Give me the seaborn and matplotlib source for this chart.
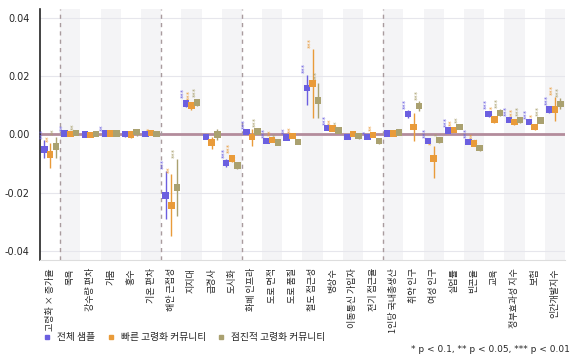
import matplotlib
matplotlib.use('Agg')
import matplotlib.pyplot as plt
from matplotlib.lines import Line2D
import pandas as pd
import seaborn as sns

# 변수 이름
categories = ['고령화 × 증가율', '목욕', '강수량 편차', '가뭄', '홍수', '기온 편차',
              '해안 근접성', '지지대', '급경사', '도시화', '화폐 인프라', '도로 면적',
              '도로 품질', '철도 접근성', '병상수', '이동통신 가입자', '전기 접근율',
              '1인당 국내총생산', '취약 인구', '여성 인구', '실업률', '빈곤율', '교육',
              '정부효과성 지수', '보험', '인간개발지수']
groups = ['전체 샘플', '빠른 고령화 커뮤니티', '점진적 고령화 커뮤니티']

# 계수 추정치
coef_all = [-0.0051, 0.0003, 0.0000, 0.0004, 0.0002, 0.0002, -0.0209, 0.0106, -0.0008,
            -0.0097, 0.0009, -0.0023, -0.0011, 0.0160, 0.0023, -0.0008, -0.0008,
            0.0003, 0.0071, -0.0023, 0.0014, -0.0025, 0.0071, 0.0050, 0.0042, 0.0085]
coef_fast = [-0.0068, 0.0001, -0.0001, 0.0003, 0.0000, 0.0005, -0.0243, 0.0099, -0.0028,
             -0.0082, -0.0009, -0.0019, -0.0006, 0.0174, 0.0021, 0.0002, -0.0001,
             0.0003, 0.0026, -0.0083, 0.0016, -0.0031, 0.0051, 0.0042, 0.0026, 0.0085]
coef_slow = [-0.0041, 0.0005, 0.0002, 0.0003, 0.0008, 0.0002, -0.0182, 0.0110, 0.0000,
             -0.0106, 0.0011, -0.0028, -0.0025, 0.0117, 0.0014, -0.0006, -0.0023,
             0.0006, 0.0097, -0.0019, 0.0026, -0.0046, 0.0074, 0.0050, 0.0048, 0.0105]

# 신뢰구간 하한 / 상한
lo_all = [-0.0082, 0.0000, -0.0003, 0.0001, -0.0008, -0.0001, -0.0290, 0.0093, -0.0017,
          -0.0110, 0.0003, -0.0030, -0.0018, 0.0100, 0.0017, -0.0014, -0.0014,
          -0.0002, 0.0058, -0.0030, 0.0008, -0.0032, 0.0061, 0.0043, 0.0035, 0.0074]
hi_all = [-0.0020, 0.0006, 0.0003, 0.0007, 0.0012, 0.0005, -0.0125, 0.0119, 0.0001,
          -0.0084, 0.0015, -0.0016, -0.0004, 0.0205, 0.0029, -0.0002, -0.0002,
          0.0008, 0.0084, -0.0016, 0.0020, -0.0018, 0.0081, 0.0057, 0.0049, 0.0096]
lo_fast = [-0.0116, -0.0002, -0.0004, 0.0000, -0.0012, 0.0002, -0.0348, 0.0085, -0.0050,
           -0.0095, -0.0040, -0.0027, -0.0013, 0.0058, 0.0014, -0.0006, -0.0008,
           -0.0003, -0.0023, -0.0150, 0.0009, -0.0040, 0.0040, 0.0033, 0.0017, 0.0045]
hi_fast = [-0.0030, 0.0004, 0.0002, 0.0006, 0.0012, 0.0008, -0.0137, 0.0113, -0.0010,
           -0.0069, 0.0020, -0.0011, 0.0001, 0.0293, 0.0028, 0.0010, 0.0006,
           0.0009, 0.0075, -0.0041, 0.0023, -0.0022, 0.0062, 0.0051, 0.0035, 0.0130]
lo_slow = [-0.0080, 0.0001, -0.0001, -0.0001, -0.0004, -0.0002, -0.0280, 0.0098, -0.0020,
           -0.0117, 0.0003, -0.0037, -0.0034, 0.0058, 0.0008, -0.0014, -0.0031,
           0.0000, 0.0080, -0.0028, 0.0018, -0.0055, 0.0062, 0.0040, 0.0038, 0.0086]
hi_slow = [-0.0007, 0.0009, 0.0005, 0.0007, 0.0020, 0.0006, -0.0085, 0.0122, 0.0020,
           -0.0095, 0.0019, -0.0019, -0.0016, 0.0177, 0.0020, 0.0002, -0.0015,
           0.0012, 0.0114, -0.0010, 0.0034, -0.0037, 0.0086, 0.0060, 0.0058, 0.0124]

# 유의수준 표시
stars_all = ['***', '**', '', '**', '', '', '***', '***', '', '***', '***', '***', '**',
             '***', '***', '', '*', '', '***', '***', '***', '***', '***', '***', '***', '***']
stars_fast = ['**', '', '', '', '', '*', '**', '***', '', '***', '', '**', '**',
              '***', '**', '', '**', '', '', '**', '**', '**', '***', '***', '***', '***']
stars_slow = ['**', '**', '', '', '', '', '***', '***', '', '**', '***', '**', '',
              '***', '**', '', '', '', '***', '*', '**', '**', '***', '***', '***', '***']

colors = ['#6b5fe0', '#e99b3a', '#aaa170']
offsets = [-0.28, 0.0, 0.28]

rows = []
series = [(coef_all, lo_all, hi_all, stars_all),
          (coef_fast, lo_fast, hi_fast, stars_fast),
          (coef_slow, lo_slow, hi_slow, stars_slow)]
for g, (c, lo, hi, st) in enumerate(series):
    for i in range(len(categories)):
        rows.append({'pos': i + offsets[g], 'coef': c[i], 'lo': lo[i], 'hi': hi[i],
                     'stars': st[i], 'grupo': groups[g]})
df = pd.DataFrame(rows)

sns.set_style('white')
plt.rcParams['font.family'] = ['Noto Sans CJK KR', 'DejaVu Sans']
plt.rcParams['axes.unicode_minus'] = False

fig = plt.figure(figsize=(5.8, 3.62), dpi=100)
ax = fig.add_axes([0.069, 0.282, 0.905, 0.693])

# 배경 줄무늬
for i in range(1, len(categories), 2):
    ax.axvspan(i - 0.5, i + 0.5, color='#f4f4f6', lw=0, zorder=0)

for yv in [-0.04, -0.02, 0.02, 0.04]:
    ax.axhline(yv, color='#e6e6ec', lw=0.8, zorder=0.5)
ax.axhline(0, color='#b38c9c', lw=2, zorder=1)

for xv in [0.5, 5.5, 9.5, 16.5]:
    ax.axvline(xv, color='#a99b9e', lw=1, ls=(0, (3, 3)), zorder=1)

palette = dict(zip(groups, colors))
for g in groups:
    sub = df[df['grupo'] == g]
    ax.vlines(sub['pos'], sub['lo'], sub['hi'], color=palette[g], lw=1.0, zorder=2)
    for _, r in sub.iterrows():
        if r['stars']:
            ax.text(r['pos'] - 0.1, r['hi'] + 0.0005, r['stars'], rotation=90,
                    ha='center', va='bottom', fontsize=4.8, color=palette[g],
                    family='DejaVu Sans', zorder=3)

sns.scatterplot(data=df, x='pos', y='coef', hue='grupo', palette=palette, marker='s',
                s=22, linewidth=0, legend=False, ax=ax, zorder=4)

ax.set_xlim(-0.5, len(categories) - 0.5)
ax.set_ylim(-0.043, 0.043)
ax.set_yticks([-0.04, -0.02, 0.0, 0.02, 0.04])
ax.set_yticklabels(['-0.04', '-0.02', '0.00', '0.02', '0.04'], family='DejaVu Sans')
ax.set_xticks(range(len(categories)))
ax.set_xticklabels(categories, rotation=90, fontsize=6.5)
ax.set_xlabel('')
ax.set_ylabel('')
ax.tick_params(axis='y', labelsize=7, length=4, width=1, color='#222222')
ax.tick_params(axis='x', length=4, width=1, color='#333333', pad=2)

for s in ['top', 'right']:
    ax.spines[s].set_visible(False)
ax.spines['left'].set_color('#222222')
ax.spines['left'].set_linewidth(1.2)
ax.spines['bottom'].set_color('#dddddd')
ax.spines['bottom'].set_linewidth(0.8)

handles = [Line2D([], [], marker='s', ls='', color=c, markersize=3.2) for c in colors]
fig.legend(handles, groups, loc='lower left', bbox_to_anchor=(0.06, 0.03), ncol=3,
           frameon=False, fontsize=7, handletextpad=0.6, columnspacing=1.2,
           handlelength=0.8)

fig.text(0.982, 0.022, '* p < 0.1, ** p < 0.05, *** p < 0.01', ha='right', va='bottom',
         fontsize=6.5, family='DejaVu Sans')

fig.savefig('out.png', dpi=100)
